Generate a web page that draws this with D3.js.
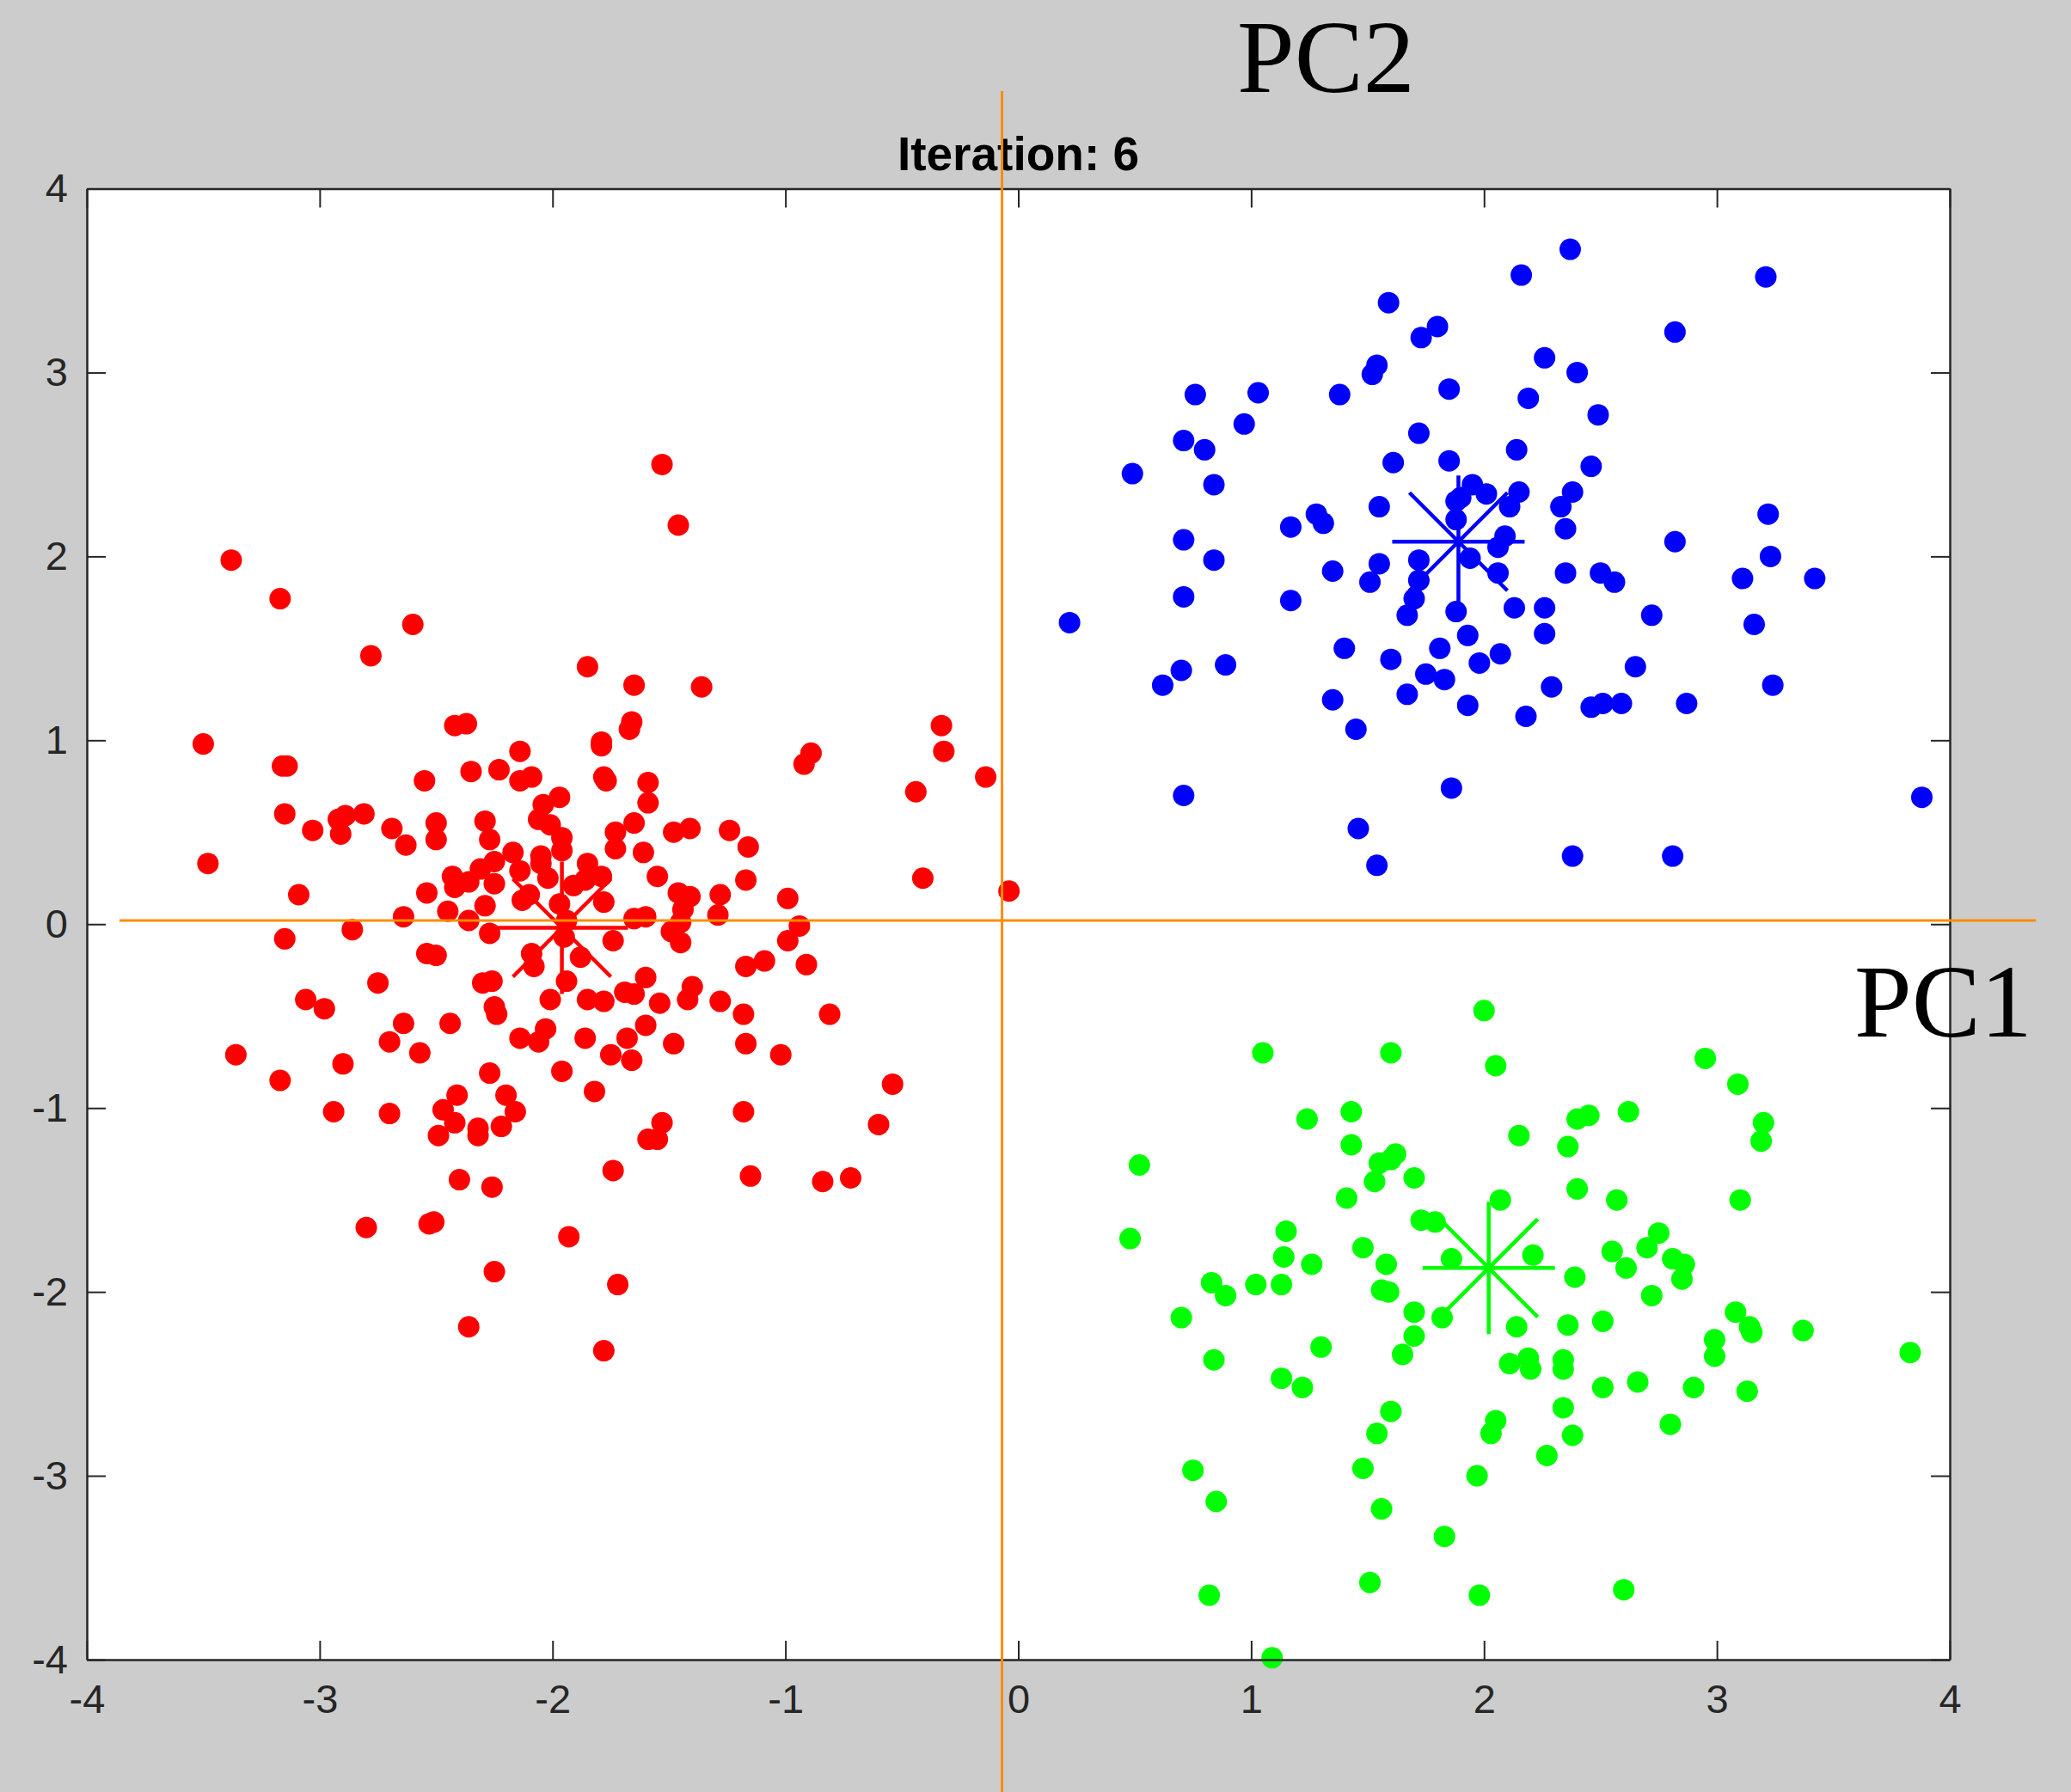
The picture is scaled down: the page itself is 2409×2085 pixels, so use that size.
<!DOCTYPE html>
<html>
<head>
<meta charset="utf-8">
<script src="https://cdn.jsdelivr.net/npm/d3@7"></script>
<style>
    html, body { margin: 0; padding: 0; background: #cccccc; }
    svg { display: block; }
</style>
</head>
<body>
<div id="kmeans-chart"></div>
<script>
// cluster members after iteration 6, as [PC1, PC2]
const redPoints = [
    [-2.42,1.08],[-2.37,1.09],[-2.14,0.94],[-1.79,0.99],[-1.79,0.97],[-1.66,1.10],[-1.67,1.06],[-2.55,0.78],
    [-2.35,0.83],[-2.23,0.84],[-2.14,0.78],[-2.09,0.80],[-1.78,0.80],[-1.77,0.78],[-1.59,0.77],[-1.59,0.66],
    [-1.97,0.69],[-2.04,0.65],[-2.81,0.60],[-2.69,0.52],[-2.63,0.43],[-2.50,0.55],[-2.50,0.46],[-2.29,0.56],
    [-2.27,0.46],[-2.06,0.57],[-2.01,0.54],[-1.96,0.47],[-1.96,0.40],[-1.73,0.50],[-1.73,0.41],[-1.65,0.55],
    [-1.61,0.39],[-1.48,0.50],[-1.41,0.52],[-1.24,0.51],[-1.16,0.42],[-1.17,0.24],[-1.55,0.26],[-1.46,0.17],
    [-1.41,0.15],[-1.44,0.08],[-1.28,0.16],[-1.29,0.05],[-1.45,0.01],[-1.65,0.03],[-1.60,0.04],[-1.78,0.12],
    [-1.85,0.33],[-1.79,0.26],[-1.91,0.21],[-1.86,0.24],[-2.17,0.39],[-2.14,0.29],[-2.25,0.34],[-2.31,0.30],
    [-2.36,0.23],[-2.43,0.26],[-2.42,0.20],[-2.25,0.22],[-2.13,0.13],[-2.10,0.16],[-2.05,0.33],[-2.05,0.37],
    [-2.02,0.25],[-2.54,0.17],[-2.45,0.07],[-2.29,0.10],[-2.36,0.02],[-2.64,0.04],[-1.97,0.11],[-1.94,0.02],
    [-2.27,-0.05],[-1.74,-0.09],[-1.45,-0.10],[-1.49,-0.04],[-1.95,-0.07],[-2.54,-0.16],[-2.50,-0.17],[-2.09,-0.16],
    [-2.08,-0.23],[-1.88,-0.18],[-2.75,-0.32],[-2.30,-0.32],[-2.26,-0.31],[-1.94,-0.31],[-1.60,-0.29],[-1.40,-0.34],
    [-1.17,-0.23],[-1.09,-0.20],[-2.01,-0.41],[-1.85,-0.41],[-1.78,-0.42],[-1.69,-0.37],[-1.65,-0.38],[-1.54,-0.43],
    [-1.42,-0.41],[-1.28,-0.42],[-1.18,-0.49],[-2.25,-0.45],[-2.24,-0.49],[-2.64,-0.54],[-2.44,-0.54],[-2.70,-0.64],
    [-2.57,-0.70],[-2.14,-0.62],[-2.06,-0.64],[-2.03,-0.57],[-1.86,-0.62],[-1.68,-0.62],[-1.60,-0.55],[-1.48,-0.65],
    [-1.75,-0.71],[-1.66,-0.74],[-1.17,-0.65],[-2.27,-0.81],[-1.96,-0.80],[-1.82,-0.91],[-2.41,-0.93],[-2.20,-0.93],
    [-2.70,-1.03],[-2.47,-1.01],[-2.42,-1.08],[-2.16,-1.02],[-2.22,-1.10],[-2.32,-1.11],[-2.32,-1.15],[-2.49,-1.15],
    [-1.53,-1.08],[-1.59,-1.17],[-1.55,-1.17],[-1.18,-1.02],
    [-0.33,1.08],[-0.32,0.94],[-0.14,0.80],[-0.44,0.72],[-0.89,0.93],[-0.92,0.87],[-0.41,0.25],[-0.04,0.18],
    [-0.99,0.14],[-0.94,-0.01],[-0.99,-0.09],[-0.91,-0.22],[-0.81,-0.49],[-1.02,-0.71],[-0.54,-0.87],[-0.60,-1.09],
    [-3.50,0.98],[-3.16,0.86],[-3.14,0.86],[-3.15,0.60],[-3.03,0.51],[-2.92,0.57],[-2.89,0.59],[-2.91,0.49],
    [-3.48,0.33],[-3.09,0.16],[-3.15,-0.08],[-2.86,-0.03],[-3.06,-0.41],[-2.98,-0.46],[-3.36,-0.71],[-3.17,-0.85],
    [-2.90,-0.76],[-2.94,-1.02],
    [-1.53,2.50],[-1.46,2.17],[-3.38,1.98],[-3.17,1.77],[-2.60,1.63],[-2.78,1.46],[-1.85,1.40],[-1.65,1.30],
    [-1.36,1.29],[-2.80,-1.65],[-2.53,-1.63],[-2.51,-1.62],[-1.74,-1.34],[-2.40,-1.39],[-2.26,-1.43],[-1.93,-1.70],
    [-1.15,-1.37],[-0.84,-1.40],[-0.72,-1.38],[-2.25,-1.89],[-1.72,-1.96],[-2.36,-2.19],[-1.78,-2.32]
];

const greenPoints = [
    [1.43,-1.02],[2.15,-1.15],[2.40,-1.06],[2.45,-1.04],[2.62,-1.02],[1.43,-1.20],[2.36,-1.21],[1.62,-1.25],
    [1.60,-1.28],[1.55,-1.30],[1.53,-1.40],[1.70,-1.38],[1.41,-1.49],[2.40,-1.44],[2.57,-1.50],[2.07,-1.50],
    [1.73,-1.61],[1.79,-1.62],[2.75,-1.68],[2.70,-1.76],[2.55,-1.78],[1.48,-1.76],[1.86,-1.82],[2.21,-1.80],
    [2.81,-1.82],[2.86,-1.85],[2.61,-1.87],[1.58,-1.85],[2.85,-1.93],[2.39,-1.92],[1.56,-1.99],[1.59,-2.00],
    [2.72,-2.02],[1.70,-2.11],[1.82,-2.14],[2.14,-2.19],[2.36,-2.18],[2.51,-2.16],[1.30,-2.30],[1.70,-2.24],
    [1.65,-2.34],[2.11,-2.39],[2.19,-2.36],[2.20,-2.42],[2.34,-2.37],[2.34,-2.42],[2.51,-2.52],[2.66,-2.49],
    [2.90,-2.52],[2.34,-2.63],[1.60,-2.65],[1.54,-2.77],[2.05,-2.70],[2.03,-2.77],[2.38,-2.78],[2.80,-2.72],
    [2.00,-0.47],[1.05,-0.70],[1.60,-0.70],[2.05,-0.77],[2.95,-0.73],[3.09,-0.87],[3.20,-1.08],[3.19,-1.18],
    [1.24,-1.06],[0.52,-1.31],[3.10,-1.50],[0.48,-1.71],[1.15,-1.67],[1.14,-1.81],[1.26,-1.85],[0.83,-1.95],
    [0.89,-2.02],[1.02,-1.96],[1.13,-1.96],[0.70,-2.14],[3.37,-2.21],[3.08,-2.11],[3.14,-2.19],[3.15,-2.22],
    [2.99,-2.26],[2.99,-2.35],[3.13,-2.54],[3.83,-2.33],[0.84,-2.37],[1.13,-2.47],[1.22,-2.52],[1.48,-2.96],
    [0.75,-2.97],[2.27,-2.89],[1.97,-3.00],[0.85,-3.14],[1.56,-3.18],[1.83,-3.33],[1.51,-3.58],[0.82,-3.65],
    [1.98,-3.65],[2.60,-3.62],[1.09,-3.99]
];

const bluePoints = [
    [2.37,3.67],[2.16,3.53],[3.21,3.52],[1.59,3.38],[1.80,3.25],[1.73,3.19],[2.82,3.22],[2.26,3.08],
    [1.54,3.04],[1.52,2.99],[2.40,3.00],[0.76,2.88],[1.03,2.89],[0.97,2.72],[0.71,2.63],[0.80,2.58],
    [0.49,2.45],[0.84,2.39],[0.71,2.09],[0.84,1.98],[0.71,1.78],[0.22,1.64],[0.70,1.38],[0.62,1.30],
    [0.89,1.41],[0.71,0.70],[1.46,0.52],[1.54,0.32],[1.86,0.74],[2.38,0.37],[2.81,0.37],[3.88,0.69],
    [3.22,2.23],[3.23,2.00],[3.11,1.88],[3.42,1.88],[3.16,1.63],[3.24,1.30],[2.87,1.20],
    [1.38,2.88],[1.85,2.91],[2.19,2.86],[2.49,2.77],[1.72,2.67],[2.14,2.58],[1.61,2.51],[1.85,2.52],
    [2.46,2.49],[1.95,2.39],[2.01,2.34],[2.15,2.35],[2.38,2.35],[1.90,2.32],[1.88,2.30],[2.11,2.27],
    [2.33,2.27],[1.55,2.27],[1.28,2.23],[1.31,2.18],[1.17,2.16],[1.88,2.20],[2.35,2.15],[2.09,2.11],
    [2.06,2.05],[2.82,2.08],[1.55,1.96],[1.35,1.92],[1.72,1.98],[1.94,1.99],[1.51,1.86],[1.72,1.87],
    [2.06,1.91],[2.35,1.91],[2.50,1.91],[2.56,1.86],[1.17,1.76],[1.70,1.77],[1.67,1.68],[1.88,1.70],
    [2.13,1.72],[2.26,1.72],[2.72,1.68],[1.93,1.57],[2.26,1.58],[1.40,1.50],[1.81,1.50],[1.60,1.44],
    [1.98,1.42],[2.07,1.47],[1.75,1.36],[1.83,1.33],[2.65,1.40],[2.29,1.29],[1.35,1.22],[1.67,1.25],
    [1.93,1.19],[2.46,1.18],[2.51,1.20],[2.59,1.20],[2.18,1.13],[1.45,1.06]
];

// cluster centroids
const centroidNames = ["red", "green", "blue"];
const centroidX = [-1.96, 2.02, 1.89];
const centroidY = [-0.02, -1.87, 2.08];

const xTicks = [-4, -3, -2, -1, 0, 1, 2, 3, 4];
const yTicks = [-4, -3, -2, -1, 0, 1, 2, 3, 4];

// principal component guide lines, in data units
const pcVertical = {x: -0.07, from: 4.53, to: -4.72};
const pcHorizontal = {y: 0.02, from: -3.86, to: 4.37};

const clusterColor = {red: "#ff0000", green: "#00ff00", blue: "#0000ff"};


function KMeansChart(parentElement) {
    let vis = this;
    vis.parentElement = parentElement;
    vis.initVis();
}

KMeansChart.prototype.initVis = function() {
    let vis = this;

    vis.margin = {top: 219.5, right: 141, bottom: 154, left: 101};
    vis.width = 2409 - vis.margin.left - vis.margin.right;
    vis.height = 2085 - vis.margin.top - vis.margin.bottom;

    vis.root = d3.select("#" + vis.parentElement).append("svg")
        .attr("width", 2409)
        .attr("height", 2085);

    vis.svg = vis.root.append("g")
        .attr("transform", "translate(" + vis.margin.left + ", " + vis.margin.top + ")");

    vis.x = d3.scaleLinear().domain([-4, 4]).range([0, vis.width]);
    vis.y = d3.scaleLinear().domain([-4, 4]).range([vis.height, 0]);

    // white axes box
    vis.svg.append("rect")
        .attr("width", vis.width)
        .attr("height", vis.height)
        .attr("fill", "#ffffff");

    vis.updateVis();
}

KMeansChart.prototype.updateVis = function() {
    let vis = this;
    let fmt = d => String(d);

    // points, one group per cluster
    let clusters = [
        {name: "red", pts: redPoints},
        {name: "green", pts: greenPoints},
        {name: "blue", pts: bluePoints}
    ];
    clusters.forEach(c => {
        vis.svg.append("g").selectAll("circle")
            .data(c.pts)
            .join("circle")
            .attr("cx", d => vis.x(d[0]))
            .attr("cy", d => vis.y(d[1]))
            .attr("r", 12.5)
            .attr("fill", clusterColor[c.name]);
    });

    // centroids as asterisk markers
    let arm = 77, diag = 57;
    let star = "M" + (-arm) + ",0H" + arm + "M0," + (-arm) + "V" + arm +
        "M" + (-diag) + "," + (-diag) + "L" + diag + "," + diag +
        "M" + (-diag) + "," + diag + "L" + diag + "," + (-diag);
    vis.svg.append("g").selectAll("path")
        .data(centroidNames)
        .join("path")
        .attr("d", star)
        .attr("transform", (d, i) => "translate(" + vis.x(centroidX[i]) + "," + vis.y(centroidY[i]) + ")")
        .attr("fill", "none")
        .attr("stroke", d => clusterColor[d])
        .attr("stroke-width", 4.5);

    // axes with inward ticks on all four sides
    let styleAxis = g => {
        g.select(".domain").attr("stroke", "#262626").attr("stroke-width", 2.5);
        g.selectAll(".tick line").attr("stroke", "#262626").attr("stroke-width", 2);
        g.selectAll("text")
            .attr("fill", "#262626")
            .attr("font-family", "'Liberation Sans', Helvetica, Arial, sans-serif")
            .attr("font-size", 47);
    };
    vis.svg.append("g")
        .attr("transform", "translate(0," + vis.height + ")")
        .call(d3.axisBottom(vis.x).tickValues(xTicks).tickFormat(fmt)
            .tickSizeInner(-22).tickSizeOuter(0).tickPadding(29))
        .call(styleAxis);
    vis.svg.append("g")
        .call(d3.axisLeft(vis.y).tickValues(yTicks).tickFormat(fmt)
            .tickSizeInner(-22).tickSizeOuter(0).tickPadding(22))
        .call(styleAxis);
    vis.svg.append("g")
        .call(d3.axisTop(vis.x).tickValues(xTicks).tickFormat("")
            .tickSizeInner(-22).tickSizeOuter(0))
        .call(styleAxis);
    vis.svg.append("g")
        .attr("transform", "translate(" + vis.width + ",0)")
        .call(d3.axisRight(vis.y).tickValues(yTicks).tickFormat("")
            .tickSizeInner(-22).tickSizeOuter(0))
        .call(styleAxis);

    // title
    vis.svg.append("text")
        .attr("x", vis.width / 2)
        .attr("y", -22)
        .attr("text-anchor", "middle")
        .attr("font-family", "'Liberation Sans', Helvetica, Arial, sans-serif")
        .attr("font-weight", "bold")
        .attr("font-size", 55)
        .attr("fill", "#000000")
        .text("Iteration: 6");

    // PC guide lines drawn over everything
    let orange = "#ff8c00";
    vis.svg.append("line")
        .attr("x1", vis.x(pcVertical.x)).attr("x2", vis.x(pcVertical.x))
        .attr("y1", vis.y(pcVertical.from)).attr("y2", vis.y(pcVertical.to))
        .attr("stroke", orange).attr("stroke-width", 3);
    vis.svg.append("line")
        .attr("x1", vis.x(pcHorizontal.from)).attr("x2", vis.x(pcHorizontal.to))
        .attr("y1", vis.y(pcHorizontal.y)).attr("y2", vis.y(pcHorizontal.y))
        .attr("stroke", orange).attr("stroke-width", 3);

    // PC labels
    let serif = "'Liberation Serif', 'Times New Roman', Times, serif";
    vis.root.append("text")
        .attr("x", 1439).attr("y", 107)
        .attr("font-family", serif).attr("font-size", 120)
        .attr("fill", "#000000")
        .text("PC2");
    vis.root.append("text")
        .attr("x", 2157).attr("y", 1206)
        .attr("font-family", serif).attr("font-size", 120)
        .attr("fill", "#000000")
        .text("PC1");
}

new KMeansChart("kmeans-chart");
</script>
</body>
</html>
